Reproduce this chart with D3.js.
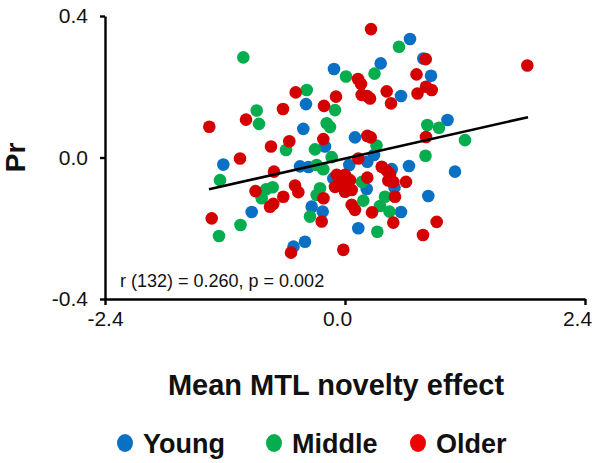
<!DOCTYPE html>
<html>
<head>
<meta charset="utf-8">
<script src="https://cdn.jsdelivr.net/npm/d3@7"></script>
<style>
  html, body { margin: 0; padding: 0; background: #fff; }
  svg { display: block; font-family: "Liberation Sans", Arial, sans-serif; }
</style>
</head>
<body>
<svg id="chart" width="600" height="463"></svg>
<script>
// ---- data ----
const groups = ["Young", "Middle", "Older"];
const youngX = [-0.11,0.357,0.65,0.783,0.86,0.56,-0.39,-0.417,0.10,-0.20,1.025,0.29,-1.217,-0.45,-0.365,0.043,0.223,0.467,0.64,1.10,-0.117,0.217,0.495,0.833,-0.333,-0.223,-0.933,0.56,0.133,-0.40,-0.515];
const youngY = [0.250,0.266,0.335,0.280,0.231,0.174,0.151,0.081,0.057,0.031,0.106,0.007,-0.020,-0.025,-0.027,-0.021,-0.012,-0.033,-0.024,-0.040,-0.059,-0.089,-0.085,-0.109,-0.139,-0.153,-0.154,-0.154,-0.200,-0.238,-0.252];
const middleX = [-1.017,0.54,0.01,0.295,-0.383,-0.10,-0.883,-0.86,-0.183,-0.15,0.823,0.94,1.20,0.315,-0.59,-0.30,-0.133,0.805,-1.25,-0.283,-0.217,-0.79,-0.723,-0.833,0.17,-0.25,-0.283,0.183,0.40,0.35,0.445,-0.35,-1.045,-1.26,0.323];
const middleY = [0.283,0.313,0.229,0.237,0.191,0.134,0.133,0.095,0.097,0.086,0.092,0.084,0.049,0.034,0.021,0.023,0.001,0.005,-0.064,-0.021,-0.033,-0.090,-0.084,-0.115,-0.069,-0.087,-0.106,-0.122,-0.111,-0.137,-0.153,-0.167,-0.191,-0.222,-0.210];
const olderX = [0.26,1.823,0.807,0.13,0.16,0.715,-0.493,-0.09,0.167,0.22,0.25,0.417,0.46,0.725,0.81,0.867,-0.21,-0.62,-0.99,-1.357,-0.217,0.223,0.257,0.81,-0.74,-0.557,-1.05,0.133,-0.71,0.367,0.417,0.45,-0.083,0.0,-0.05,-0.10,0.017,0.05,0.0,0.067,0.223,0.433,0.483,0.61,-0.50,-0.467,-0.215,0.50,-0.895,-0.75,-0.717,-0.617,0.067,0.10,0.27,-0.233,0.483,0.917,0.78,-1.333,-0.54,-0.017];
const olderY = [0.363,0.260,0.278,0.222,0.208,0.235,0.184,0.172,0.177,0.174,0.167,0.187,0.153,0.181,0.200,0.191,0.146,0.137,0.107,0.087,0.052,0.061,0.057,0.058,0.031,0.046,-0.003,-0.003,-0.040,-0.026,-0.037,-0.047,-0.049,-0.049,-0.068,-0.083,-0.073,-0.064,-0.097,-0.092,-0.057,-0.065,-0.069,-0.069,-0.079,-0.098,-0.115,-0.111,-0.095,-0.139,-0.131,-0.111,-0.134,-0.148,-0.155,-0.181,-0.184,-0.182,-0.219,-0.172,-0.269,-0.261];
const fitX = [-1.36, 1.83];
const fitY = [-0.090, 0.114];
const xTicks = [-2.4, 0.0, 2.4];
const yTicks = [-0.4, 0.0, 0.4];
const xTitle = "Mean MTL novelty effect";
const yTitle = "Pr";
const statText = "r (132) = 0.260, p = 0.002";

const pointColors = { Young: "#0a70c4", Middle: "#05ad4f", Older: "#d40000" };
const legendColors = { Young: "#0a70c4", Middle: "#05ad4f", Older: "#f00000" };

// ---- drawing ----
const svg = d3.select("#chart");
const x = d3.scaleLinear().domain([-2.4, 2.4]).range([105, 585]);
const y = d3.scaleLinear().domain([-0.4, 0.4]).range([299, 16]);
const fmt = v => d3.format(".1f")(v).replace("\u2212", "-");

const series = [
  { name: "Young", xs: youngX, ys: youngY },
  { name: "Middle", xs: middleX, ys: middleY },
  { name: "Older", xs: olderX, ys: olderY }
];

// points
const pts = [];
series.forEach(s => s.xs.forEach((v, i) => pts.push({ g: s.name, x: v, y: s.ys[i] })));
svg.append("g").selectAll("circle").data(pts).join("circle")
  .attr("cx", d => x(d.x)).attr("cy", d => y(d.y)).attr("r", 6.3)
  .attr("fill", d => pointColors[d.g]);

// regression line
svg.append("line")
  .attr("x1", x(fitX[0])).attr("y1", y(fitY[0]))
  .attr("x2", x(fitX[1])).attr("y2", y(fitY[1]))
  .attr("stroke", "#000").attr("stroke-width", 2.6);

// axes
const yAxis = svg.append("g").attr("transform", `translate(${x(-2.4)},0)`)
  .call(d3.axisLeft(y).tickValues(yTicks).tickFormat(fmt).tickSize(5).tickSizeOuter(0).tickPadding(12));
const xAxis = svg.append("g").attr("transform", `translate(0,${y(-0.4)})`)
  .call(d3.axisBottom(x).tickValues(xTicks).tickFormat(fmt).tickSize(6).tickSizeOuter(0).tickPadding(6));
[yAxis, xAxis].forEach(a => {
  a.select(".domain").attr("stroke", "#000").attr("stroke-width", 2.4);
  a.selectAll(".tick line").attr("stroke", "#000").attr("stroke-width", 2.4);
  a.selectAll("text").attr("font-size", 21).attr("fill", "#111")
    .attr("font-family", "'Liberation Sans', Arial, sans-serif");
});
xAxis.selectAll(".tick text").attr("dx", d => d < 0 ? 0 : -8);

// stat annotation
svg.append("text").attr("x", 120).attr("y", 287)
  .attr("font-size", 18).attr("fill", "#111").text(statText);

// axis titles
svg.append("text").attr("transform", `translate(25,${y(0)}) rotate(-90)`)
  .attr("text-anchor", "middle").attr("font-size", 28).attr("font-weight", "bold")
  .attr("fill", "#111").text(yTitle);
svg.append("text").attr("x", 336).attr("y", 395)
  .attr("text-anchor", "middle").attr("font-size", 29).attr("font-weight", "bold")
  .attr("fill", "#111").text(xTitle);

// legend
const legendX = [125, 274, 418];
const leg = svg.append("g").selectAll("g").data(groups).join("g")
  .attr("transform", (d, i) => `translate(${legendX[i]},443)`);
leg.append("ellipse").attr("rx", 8).attr("ry", 9).attr("fill", d => legendColors[d]);
leg.append("text").attr("x", 18).attr("y", 9.5)
  .attr("font-size", 27).attr("font-weight", "bold").attr("fill", "#111").text(d => d);
</script>
</body>
</html>
